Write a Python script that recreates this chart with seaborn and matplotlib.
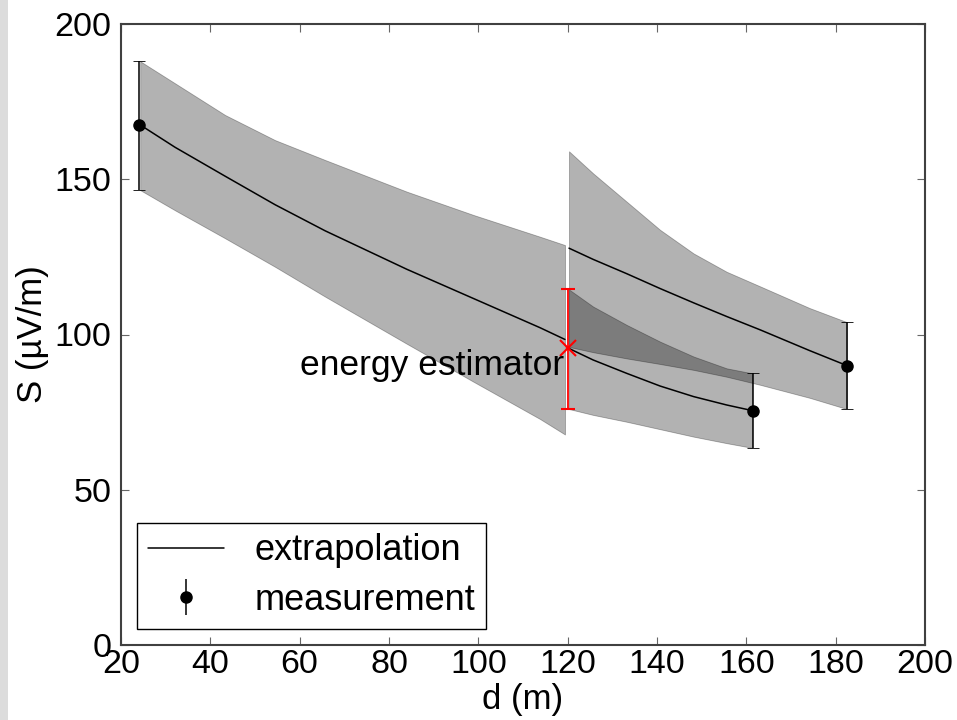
import numpy as np
import pandas as pd
import matplotlib
matplotlib.use("Agg")
import matplotlib.pyplot as plt
from matplotlib.patches import Rectangle
from matplotlib.lines import Line2D
import seaborn as sns

# extrapolation bands
a_x = [24.3, 32.1, 43.3, 54.5, 65.7, 84, 98.9, 113.8, 119.4]
a_mid = [167.5, 160.3, 151.0, 141.8, 133.4, 121.0, 111.6, 102.2, 98.4]
a_hi = [188.0, 180.9, 170.7, 162.6, 156.2, 146.0, 138.5, 131.5, 128.8]
a_lo = [146.5, 140.0, 131.0, 121.8, 112.2, 97.0, 84.8, 72.8, 67.8]

b_x = [120.3, 125.7, 133.2, 140.7, 148.2, 155.6, 161.3]
b_mid = [95.5, 91.8, 87.5, 83.4, 80.0, 77.3, 75.5]
b_hi = [114.5, 109.0, 103.1, 97.7, 92.9, 89.1, 87.5]
b_lo = [76.0, 74.1, 71.9, 69.5, 67.1, 65.0, 63.5]

c_x = [120.3, 125.7, 133.2, 140.7, 148.2, 155.6, 163.1, 174.2, 182.5]
c_mid = [127.8, 124.2, 119.6, 114.8, 110.2, 105.8, 101.5, 94.8, 90.0]
c_hi = [159.0, 151.9, 142.8, 133.7, 126.1, 120.2, 115.5, 108.5, 104.0]
c_lo = [96.0, 94.3, 92.3, 90.5, 88.6, 86.4, 83.8, 79.6, 76.0]

# measurements
meas_x = [24, 161.5, 182.5]
meas_y = [167.5, 75.5, 90.0]
meas_lo = [146.5, 63.5, 76.0]
meas_hi = [188.0, 87.5, 104.0]

# energy estimator
est_x = 120
est_y = 95.5
est_lo = 76.0
est_hi = 114.5

sns.set_style("ticks")
plt.rcParams["font.family"] = ["Liberation Sans", "DejaVu Sans"]
plt.rcParams["text.color"] = "black"
plt.rcParams["axes.labelcolor"] = "black"

fig = plt.figure(figsize=(9.57, 7.2), dpi=100)
fig.patches.append(Rectangle((0, 0), 8 / 957, 1, transform=fig.transFigure,
                             facecolor="#dcdcdc", edgecolor="none"))
ax = fig.add_axes([121 / 957, 75 / 720, 804 / 957, 621 / 720])

for xs, mid, lo, hi in [(a_x, a_mid, a_lo, a_hi), (b_x, b_mid, b_lo, b_hi), (c_x, c_mid, c_lo, c_hi)]:
    ax.fill_between(xs, lo, hi, color="black", alpha=0.3, linewidth=0.6, edgecolor=(0, 0, 0, 0.12))
    df = pd.DataFrame({"d": xs, "S": mid})
    sns.lineplot(data=df, x="d", y="S", color="black", linewidth=1.1, ax=ax, sort=False)

yerr = [np.array(meas_y) - np.array(meas_lo), np.array(meas_hi) - np.array(meas_y)]
ax.errorbar(meas_x, meas_y, yerr=yerr, fmt="o", color="black", ms=8,
            ecolor="black", elinewidth=1.1, capsize=4, capthick=0.6, zorder=5)

ax.errorbar([est_x], [est_y], yerr=[[est_y - est_lo], [est_hi - est_y]], fmt="x",
            color="red", ms=12, mew=1.5, elinewidth=1.3, capsize=5, capthick=2.5, zorder=6)
ax.text(119.3, 89.9, "energy estimator", ha="right", va="center", fontsize=25.5, zorder=7)

ax.set_xlim(20, 200)
ax.set_ylim(0, 200)
ax.set_xticks(range(20, 201, 20))
ax.set_yticks(range(0, 201, 50))
ax.tick_params(direction="in", length=6, width=0.8, color="#666666", labelcolor="black",
               top=True, right=True, labelsize=24.5)
ax.tick_params(axis="x", pad=3)
ax.tick_params(axis="y", pad=7)
for s in ax.spines.values():
    s.set_color("#404040")
    s.set_linewidth(1.5)
ax.set_xlabel("d (m)", fontsize=25, labelpad=2)
ax.set_ylabel("S (µV/m)", fontsize=25, labelpad=4)

h_line = Line2D([], [], color="black", linewidth=1.1)
h_meas = ax.errorbar([], [], yerr=[], fmt="o", color="black", ms=8, elinewidth=1.1, capsize=4, capthick=0.6)
leg = ax.legend([h_line, h_meas], ["extrapolation", "measurement"], loc="lower left",
                fontsize=26, frameon=True, fancybox=False, edgecolor="black",
                borderaxespad=0.45, handlelength=2.1, handletextpad=0.85, labelspacing=0.4,
                borderpad=0.3)
leg.get_frame().set_linewidth(1.0)
leg.get_frame().set_alpha(1)

fig.savefig("out.png", dpi=100)
